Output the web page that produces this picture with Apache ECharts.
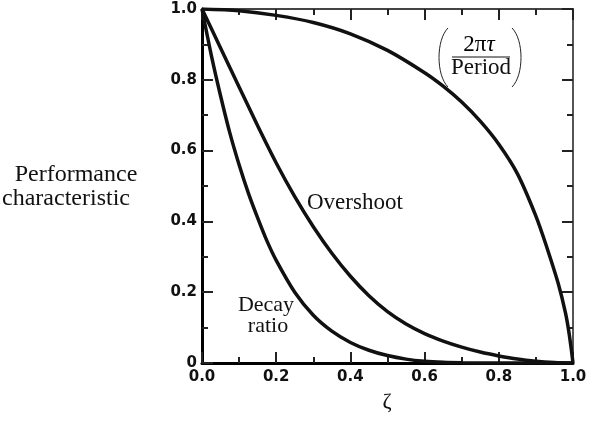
<!DOCTYPE html>
<html>
<head>
<meta charset="utf-8">
<script src="https://cdn.jsdelivr.net/npm/echarts@6/dist/echarts.min.js"></script>
<style>
  html, body { margin: 0; padding: 0; background: #fff; }
  #chart { width: 590px; height: 421px; }
</style>
</head>
<body>
<div id="chart"></div>
<script>
// values
const zetaPeriod = [0, 0.1, 0.2, 0.3, 0.4, 0.5, 0.6, 0.65, 0.7, 0.75, 0.8, 0.85, 0.9, 0.93, 0.96, 0.98, 0.99, 1.0]
const period = [1.0, 0.995, 0.982, 0.962, 0.93, 0.883, 0.82, 0.782, 0.737, 0.683, 0.618, 0.535, 0.415, 0.325, 0.225, 0.14, 0.08, 0]

const zetaOvershoot = [0, 0.05, 0.1, 0.15, 0.2, 0.25, 0.3, 0.35, 0.4, 0.45, 0.5, 0.55, 0.6, 0.65, 0.7, 0.75, 0.8, 0.85, 0.9, 0.95, 1.0]
const overshoot = [1.0, 0.89, 0.78, 0.67, 0.565, 0.47, 0.385, 0.31, 0.245, 0.19, 0.145, 0.11, 0.083, 0.062, 0.045, 0.031, 0.02, 0.011, 0.005, 0.0015, 0]

const zetaDecay = [0, 0.025, 0.05, 0.075, 0.1, 0.125, 0.15, 0.175, 0.2, 0.25, 0.3, 0.35, 0.4, 0.45, 0.5, 0.55, 0.6, 0.65, 0.7, 0.8, 0.9, 1.0]
const decay = [1.0, 0.87, 0.755, 0.65, 0.56, 0.48, 0.41, 0.345, 0.29, 0.2, 0.135, 0.09, 0.058, 0.036, 0.021, 0.011, 0.005, 0.002, 0.0008, 0, 0, 0]

const pairs = (xs, ys) => xs.map((x, i) => [x, ys[i]])

const chart = echarts.init(document.getElementById('chart'))

const serif = '"Liberation Serif", "DejaVu Serif", serif'
const tickFont = { fontFamily: '"DejaVu Sans"', fontWeight: 'bold', fontSize: 15, color: '#111' }

// one axis definition, reused for the four sides
function axis(pos, showLabel, lineColor, lineWidth) {
  return {
    type: 'value',
    position: pos,
    min: 0,
    max: 1,
    interval: 0.2,
    splitLine: { show: false },
    axisLine: { show: true, onZero: false, lineStyle: { color: lineColor, width: lineWidth } },
    axisTick: { show: true, inside: true, length: 11, lineStyle: { color: '#222', width: 2 } },
    minorTick: { show: true, splitNumber: 2, length: 6, lineStyle: { color: '#222', width: 2 } },
    axisLabel: showLabel
  }
}

const xBottom = axis('bottom', {
  show: true, margin: 7, ...tickFont,
  formatter: v => v.toFixed(1)
}, '#000', 3)
const xTop = axis('top', { show: false }, '#444', 2)
const yLeft = axis('left', {
  show: true, margin: 5, ...tickFont,
  formatter: v => v === 0 ? '0' : v.toFixed(1)
}, '#000', 3)
const yRight = axis('right', { show: false }, '#555', 2)

function curve(name, data) {
  return {
    name: name,
    type: 'line',
    data: data,
    showSymbol: false,
    smooth: 0.3,
    lineStyle: { color: '#111', width: 3.5 },
    animation: false
  }
}

function label(text, x, y, size, align) {
  return {
    type: 'text', x: x, y: y,
    style: { text: text, font: size + 'px ' + serif, fill: '#111', textAlign: align || 'center', textVerticalAlign: 'middle' }
  }
}

chart.setOption({
  animation: false,
  grid: { left: 202, right: 17, top: 9, bottom: 58 },
  xAxis: [xBottom, xTop],
  yAxis: [yLeft, yRight],
  series: [
    curve('2πτ/Period', pairs(zetaPeriod, period)),
    curve('Overshoot', pairs(zetaOvershoot, overshoot)),
    curve('Decay ratio', pairs(zetaDecay, decay))
  ],
  graphic: [
    // y axis title
    label('Performance', 76, 175, 24),
    label('characteristic', 66, 199, 24),
    // x axis title
    label('ζ', 387, 402, 22),
    // curve labels
    label('Overshoot', 307, 203, 23, 'left'),
    label('Decay', 266, 305, 22),
    label('ratio', 268, 326, 22),
    // (2πτ / Period)
    {
      type: 'text', x: 479, y: 45,
      style: {
        text: '{n|2π}{i|τ}',
        textAlign: 'center', textVerticalAlign: 'middle',
        rich: {
          n: { fontFamily: serif, fontSize: 23, color: '#111' },
          i: { fontFamily: serif, fontSize: 23, fontStyle: 'italic', color: '#111' }
        }
      }
    },
    { type: 'line', shape: { x1: 452, y1: 57, x2: 510, y2: 57 }, style: { stroke: '#111', lineWidth: 1 } },
    label('Period', 481, 68, 23),
    { type: 'bezierCurve', shape: { x1: 448, y1: 28, cpx1: 436, cpy1: 40, cpx2: 436, cpy2: 75, x2: 448, y2: 87 }, style: { stroke: '#222', lineWidth: 1, fill: null } },
    { type: 'bezierCurve', shape: { x1: 512, y1: 28, cpx1: 524, cpy1: 40, cpx2: 524, cpy2: 75, x2: 512, y2: 87 }, style: { stroke: '#222', lineWidth: 1, fill: null } }
  ]
})
</script>
</body>
</html>
